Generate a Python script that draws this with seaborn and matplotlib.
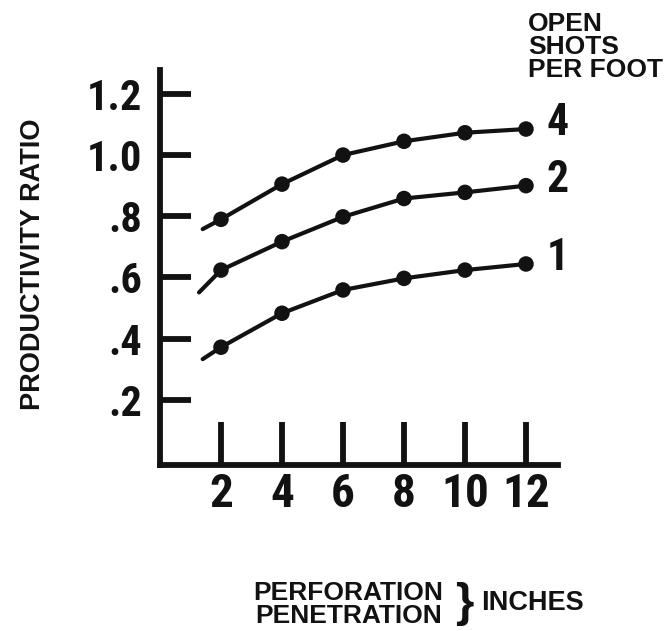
import matplotlib
matplotlib.use("Agg")
import matplotlib.pyplot as plt
import seaborn as sns
import pandas as pd

# ---- data ----
penetration = [2, 4, 6, 8, 10, 12]
shots_labels = ["4", "2", "1"]
ratio_4 = [0.79, 0.905, 1.00, 1.045, 1.073, 1.085]
ratio_2 = [0.624, 0.717, 0.798, 0.858, 0.878, 0.900]
ratio_1 = [0.372, 0.483, 0.559, 0.597, 0.624, 0.644]
# where each drawn curve begins (left of the first measured point)
curve_start_x = [1.4, 1.28, 1.4]
curve_start_y = [0.758, 0.551, 0.333]
y_ticks = [0.2, 0.4, 0.6, 0.8, 1.0, 1.2]
y_tick_labels = [".2", ".4", ".6", ".8", "1.0", "1.2"]
x_ticks = [2, 4, 6, 8, 10, 12]
x_tick_labels = ["2", "4", "6", "8", "10", "12"]

sns.set_style("ticks")
plt.rcParams["font.family"] = ["Liberation Sans", "DejaVu Sans"]
narrow = ["Roboto Condensed", "DejaVu Sans"]

ink = "#121212"
series = [ratio_4, ratio_2, ratio_1]

rows_line, rows_pts = [], []
for lab, vals, sx, sy in zip(shots_labels, series, curve_start_x, curve_start_y):
    rows_line.append({"shots": lab, "x": sx, "y": sy})
    for x, y in zip(penetration, vals):
        rows_line.append({"shots": lab, "x": x, "y": y})
        rows_pts.append({"shots": lab, "x": x, "y": y})
df_line = pd.DataFrame(rows_line)
df_pts = pd.DataFrame(rows_pts)

fig = plt.figure(figsize=(6.70, 6.31), dpi=100)
ax = fig.add_axes([160 / 670, (631 - 465) / 631, 398 / 670, 395 / 631])

pal = {s: ink for s in shots_labels}
sns.lineplot(data=df_line, x="x", y="y", hue="shots", palette=pal, sort=False,
             estimator=None, units="shots", linewidth=3.0, legend=False, ax=ax)
sns.scatterplot(data=df_pts, x="x", y="y", hue="shots", palette=pal, s=125,
                edgecolor="none", legend=False, ax=ax, zorder=3)

ax.set_xlim(0, 13.05)
ax.set_ylim(-0.013, 1.278)
ax.set_xticks(x_ticks)
ax.set_xticklabels(x_tick_labels)
ax.set_yticks(y_ticks)
ax.set_yticklabels(y_tick_labels)

sns.despine(ax=ax)
for sp in ("left", "bottom"):
    ax.spines[sp].set_linewidth(4.2)
    ax.spines[sp].set_color(ink)
    ax.spines[sp].set_capstyle("projecting")

ax.tick_params(axis="y", direction="in", length=22, width=4.2, pad=13, colors=ink)
ax.tick_params(axis="x", direction="in", length=31, width=4.2, pad=5, colors=ink)
for t in ax.get_yticklabels():
    t.set_fontfamily(narrow); t.set_fontweight("bold"); t.set_fontsize(30.5)
for t in ax.get_xticklabels():
    t.set_fontfamily(narrow); t.set_fontweight("bold"); t.set_fontsize(34)

# series labels at the end of each curve
for lab, vals in zip(shots_labels, series):
    ax.annotate(lab, xy=(penetration[-1], vals[-1]), xytext=(15, 4),
                textcoords="offset points", ha="left", va="center",
                fontsize=31.5, fontweight="bold", family=narrow, color=ink,
                annotation_clip=False)

ax.text(0.925, 1.147, "OPEN\nSHOTS\nPER FOOT", transform=ax.transAxes,
        ha="left", va="top", fontsize=19, fontweight="bold", color=ink,
        linespacing=0.95)

ax.set_ylabel("PRODUCTIVITY RATIO", fontsize=19.5, fontweight="bold", color=ink)
ax.yaxis.label.set_verticalalignment("center")
ax.yaxis.set_label_coords(-0.319, 0.509)

ax.set_xlabel("PERFORATION\nPENETRATION", fontsize=19, fontweight="bold",
              color=ink, linespacing=0.95)
ax.xaxis.label.set_verticalalignment("center")
ax.xaxis.set_label_coords(0.4736, -0.354)
ax.text(0.764, -0.352, "}", transform=ax.transAxes, ha="center", va="center",
        fontsize=34, fontweight="bold", color=ink)
ax.text(0.937, -0.349, "INCHES", transform=ax.transAxes, ha="center",
        va="center", fontsize=19.5, fontweight="bold", color=ink)

fig.savefig("out.png", dpi=100)
